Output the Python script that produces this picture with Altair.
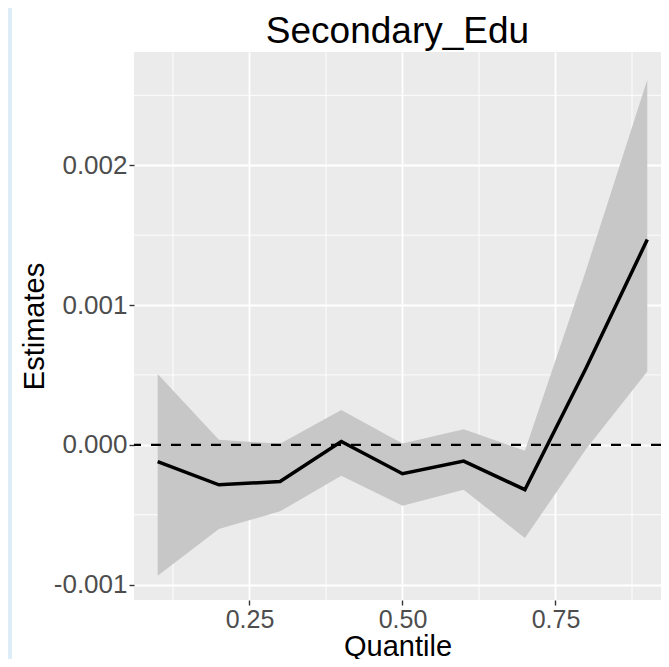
import altair as alt
import pandas as pd

# ---- data ----
quantile = [0.1, 0.2, 0.3, 0.4, 0.5, 0.6, 0.7, 0.8, 0.9]
estimate = [-0.000120, -0.000286, -0.000262, 0.000024, -0.000207, -0.000116, -0.000321, 0.000550, 0.001468]
lower = [-0.000936, -0.000602, -0.000476, -0.000221, -0.000436, -0.000321, -0.000667, -0.000030, 0.000524]
upper = [0.000507, 0.000036, 0.000007, 0.000250, 0.000010, 0.000112, -0.000043, 0.001250, 0.002612]

x_ticks = [0.25, 0.50, 0.75]
y_ticks = [-0.001, 0.000, 0.001, 0.002]
x_minor = [0.125, 0.375, 0.625, 0.875]
y_minor = [-0.0005, 0.0005, 0.0015, 0.0025]
hline = [0.0]

x_domain = [0.0613, 0.9224]
y_domain = [-0.00111, 0.00281]

W, H = 527, 548
FONT = "Liberation Sans"

df = pd.DataFrame({"q": quantile, "est": estimate, "lo": lower, "hi": upper})
df_xm = pd.DataFrame({"xm": x_minor})
df_ym = pd.DataFrame({"ym": y_minor})
df_h = pd.DataFrame({"h": hline})
df_one = pd.DataFrame({"k": [1]})

x_axis = alt.Axis(values=x_ticks, format=".2f", title="Quantile",
                  titleFontSize=29, titleFont=FONT, titleColor="black", titleFontWeight="normal",
                  titleBaseline="alphabetic", titleY=55, titlePadding=0,
                  labelFontSize=25, labelFont=FONT, labelColor="#4D4D4D", labelPadding=2,
                  tickColor="#333333", tickSize=5, tickWidth=1.4,
                  domain=False, grid=True, gridColor="white", gridWidth=1.8, zindex=0)
y_axis = alt.Axis(values=y_ticks, title="Estimates",
                  labelExpr="replace(format(datum.value, '.3f'), '\u2212', '-')",
                  titleFontSize=29, titleFont=FONT, titleColor="black", titleFontWeight="normal",
                  titleBaseline="alphabetic", titleAngle=270, titleX=-91, titleY=H / 2,
                  titleAlign="center",
                  labelFontSize=26, labelFont=FONT, labelColor="#4D4D4D", labelPadding=2,
                  tickColor="#333333", tickSize=5, tickWidth=1.4,
                  domain=False, grid=True, gridColor="white", gridWidth=1.8, zindex=0)

xs = alt.Scale(domain=x_domain, nice=False, zero=False)
ys = alt.Scale(domain=y_domain, nice=False, zero=False)

strip = alt.Chart(df_one).mark_rect(color="#DCEDF7").encode(
    x=alt.value(-126), x2=alt.value(-122), y=alt.value(-44), y2=alt.value(H + 60)
)

minor_x = alt.Chart(df_xm).mark_rule(color="white", strokeWidth=0.9).encode(
    x=alt.X("xm:Q", scale=xs, axis=x_axis)
)
minor_y = alt.Chart(df_ym).mark_rule(color="white", strokeWidth=0.9).encode(
    y=alt.Y("ym:Q", scale=ys, axis=y_axis)
)

band = alt.Chart(df).mark_area(color="#C7C7C7", opacity=1).encode(
    x=alt.X("q:Q", scale=xs, axis=x_axis),
    y=alt.Y("lo:Q", scale=ys, axis=y_axis),
    y2="hi:Q",
)

line = alt.Chart(df).mark_line(color="black", strokeWidth=3.5).encode(
    x=alt.X("q:Q", scale=xs, axis=x_axis),
    y=alt.Y("est:Q", scale=ys, axis=y_axis),
)

zero = alt.Chart(df_h).mark_rule(color="black", strokeWidth=2.2, strokeDash=[10, 10]).encode(
    y=alt.Y("h:Q", scale=ys, axis=y_axis)
)

chart = alt.layer(strip, minor_x, minor_y, band, line, zero).properties(
    width=W, height=H,
    autosize=alt.AutoSizeParams(type="none"),
    padding={"left": 126, "top": 44, "right": 0, "bottom": 59},
    background="white",
    title=alt.TitleParams("Secondary_Edu", fontSize=37, font=FONT, fontWeight="normal",
                          color="black", anchor="middle", frame="group",
                          baseline="alphabetic", offset=7, dy=79),
).configure_view(fill="#EBEBEB", stroke=None)

chart.save("out.html", embed_options={"renderer": "svg", "actions": False})
